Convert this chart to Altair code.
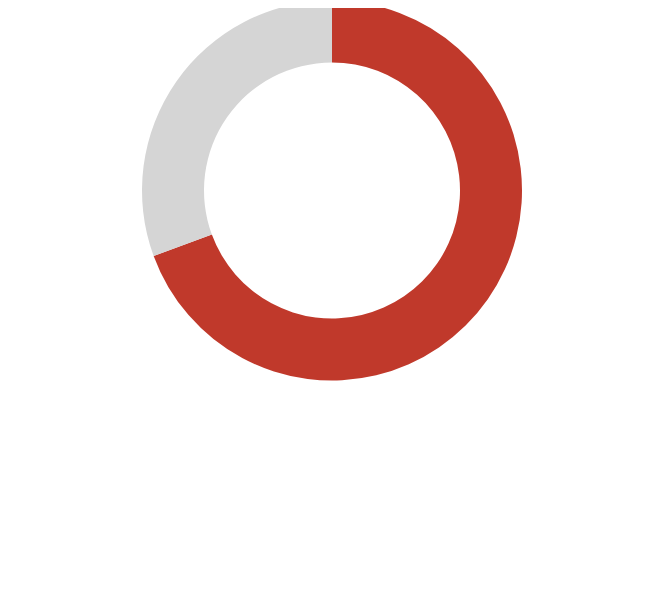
import altair as alt
import pandas as pd

categories = ["Share", "Remainder"]
values = [69.4, 30.6]
colors = ["#c0392b", "#d5d5d5"]
order = [1, 2]

df = pd.DataFrame({"category": categories, "value": values, "order": order})

chart = (
    alt.Chart(df)
    .mark_arc(radius=190, radius2=128, stroke=None)
    .encode(
        theta=alt.Theta("value:Q", stack=True),
        color=alt.Color("category:N", scale=alt.Scale(domain=categories, range=colors), legend=None),
        order=alt.Order("order:Q"),
        x=alt.value(324),
        y=alt.value(182.5),
    )
    .properties(width=651, height=580, autosize=alt.AutoSizeParams(type="none"), padding=0)
    .configure_view(stroke=None)
)

chart.save("out.html", embed_options={"renderer": "svg", "actions": False})
